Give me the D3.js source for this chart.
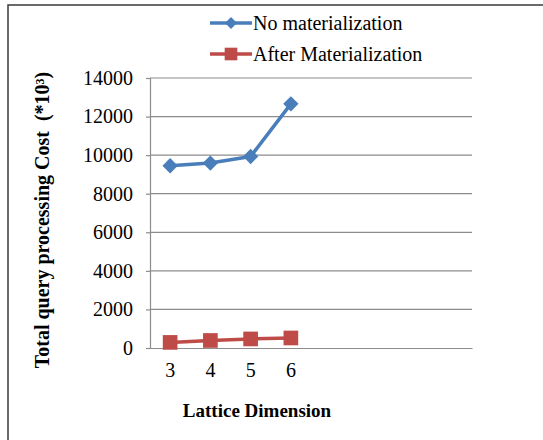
<!DOCTYPE html>
<html>
<head>
<meta charset="utf-8">
<script src="https://cdn.jsdelivr.net/npm/d3@7"></script>
<style>
  html, body { margin: 0; padding: 0; background: #fff; }
  svg, svg text { font-family: 'Liberation Serif', 'Times New Roman', Tinos, serif !important; }
</style>
</head>
<body>
<svg id="chart" width="543" height="440"></svg>
<script>
// Lattice dimensions on the x axis
const categories = ["3", "4", "5", "6"];
// Total query processing cost (*10^3)
const noMaterialization = [9450, 9590, 9930, 12660];
const afterMaterialization = [290, 390, 470, 520];
const yTicks = [0, 2000, 4000, 6000, 8000, 10000, 12000, 14000];

const seriesNames = ["No materialization", "After Materialization"];
const seriesColors = ["#4a7ebb", "#be4b48"];

const svg = d3.select("#chart");

// Outer chart frame
svg.append("rect")
  .attr("x", 8).attr("y", 5)
  .attr("width", 560).attr("height", 460)
  .attr("fill", "none").attr("stroke", "#3a3a3a").attr("stroke-width", 1.5);

const plot = { left: 150, right: 472, top: 78, bottom: 348 };
const slotCount = 8; // category slots across the plot width; only the first four hold data

const x = d3.scaleBand()
  .domain(d3.range(slotCount))
  .range([plot.left, plot.right]);

const y = d3.scaleLinear()
  .domain([0, 14000])
  .range([plot.bottom, plot.top]);

// Horizontal gridlines
svg.append("g")
  .selectAll("line")
  .data(yTicks.filter(t => t > 0))
  .join("line")
  .attr("x1", plot.left).attr("x2", plot.right)
  .attr("y1", d => y(d)).attr("y2", d => y(d))
  .attr("stroke", "#8c8c8c").attr("stroke-width", 1.2);

// Y axis
const yAxis = svg.append("g")
  .attr("transform", `translate(${plot.left},0)`)
  .call(d3.axisLeft(y).tickValues(yTicks).tickSize(4).tickPadding(13).tickFormat(d3.format("d")));
yAxis.attr("font-family", null).attr("font-size", 20);
yAxis.select(".domain").attr("stroke", "#8c8c8c").attr("stroke-width", 1.2);
yAxis.selectAll(".tick line").attr("stroke", "#8c8c8c").attr("stroke-width", 1.2);
yAxis.selectAll(".tick text").attr("fill", "#000");

// X axis
const xAxis = svg.append("g")
  .attr("transform", `translate(0,${plot.bottom})`)
  .call(d3.axisBottom(x).tickSize(0).tickPadding(15).tickFormat(i => categories[i] || ""));
xAxis.attr("font-family", null).attr("font-size", 20);
xAxis.select(".domain").attr("stroke", "#8c8c8c").attr("stroke-width", 1.2);
xAxis.selectAll(".tick text").attr("fill", "#000");

const cx = i => x(i) + x.bandwidth() / 2;

const line = d3.line()
  .x((d, i) => cx(i))
  .y(d => y(d));

const diamond = d3.symbol().type(d3.symbolDiamond2).size(150);
const square = d3.symbol().type(d3.symbolSquare).size(215);

// Series: No materialization
svg.append("path")
  .datum(noMaterialization)
  .attr("d", line)
  .attr("fill", "none").attr("stroke", seriesColors[0]).attr("stroke-width", 3.5)
  .attr("stroke-linejoin", "round");
svg.append("g")
  .selectAll("path")
  .data(noMaterialization)
  .join("path")
  .attr("d", diamond)
  .attr("transform", (d, i) => `translate(${cx(i)},${y(d)})`)
  .attr("fill", seriesColors[0]);

// Series: After Materialization
svg.append("path")
  .datum(afterMaterialization)
  .attr("d", line)
  .attr("fill", "none").attr("stroke", seriesColors[1]).attr("stroke-width", 3.5)
  .attr("stroke-linejoin", "round");
svg.append("g")
  .selectAll("path")
  .data(afterMaterialization)
  .join("path")
  .attr("d", square)
  .attr("transform", (d, i) => `translate(${cx(i)},${y(d)})`)
  .attr("fill", seriesColors[1]);

// Legend
const legendMarks = [
  d3.symbol().type(d3.symbolDiamond2).size(90)(),
  d3.symbol().type(d3.symbolSquare).size(160)()
];
const legend = svg.append("g")
  .selectAll("g")
  .data(seriesNames)
  .join("g")
  .attr("transform", (d, i) => `translate(210,${23 + i * 31})`);
legend.append("line")
  .attr("x1", 0).attr("x2", 42).attr("y1", 0).attr("y2", 0)
  .attr("stroke", (d, i) => seriesColors[i]).attr("stroke-width", 3.5);
legend.append("path")
  .attr("d", (d, i) => legendMarks[i])
  .attr("transform", "translate(21,0)")
  .attr("fill", (d, i) => seriesColors[i]);
legend.append("text")
  .attr("x", 43).attr("y", 0).attr("dy", "0.35em")
  .attr("font-size", 20).attr("fill", "#000")
  .text(d => d);

// Axis titles
svg.append("text")
  .attr("transform", "translate(49,220) rotate(-90)")
  .attr("text-anchor", "middle")
  .attr("font-size", 20).attr("font-weight", "bold").attr("fill", "#000")
  .style("white-space", "pre")
  .text("Total query processing Cost  (*10³)");

svg.append("text")
  .attr("x", 257).attr("y", 417)
  .attr("text-anchor", "middle")
  .attr("font-size", 19).attr("font-weight", "bold").attr("fill", "#000")
  .text("Lattice Dimension");
</script>
</body>
</html>
